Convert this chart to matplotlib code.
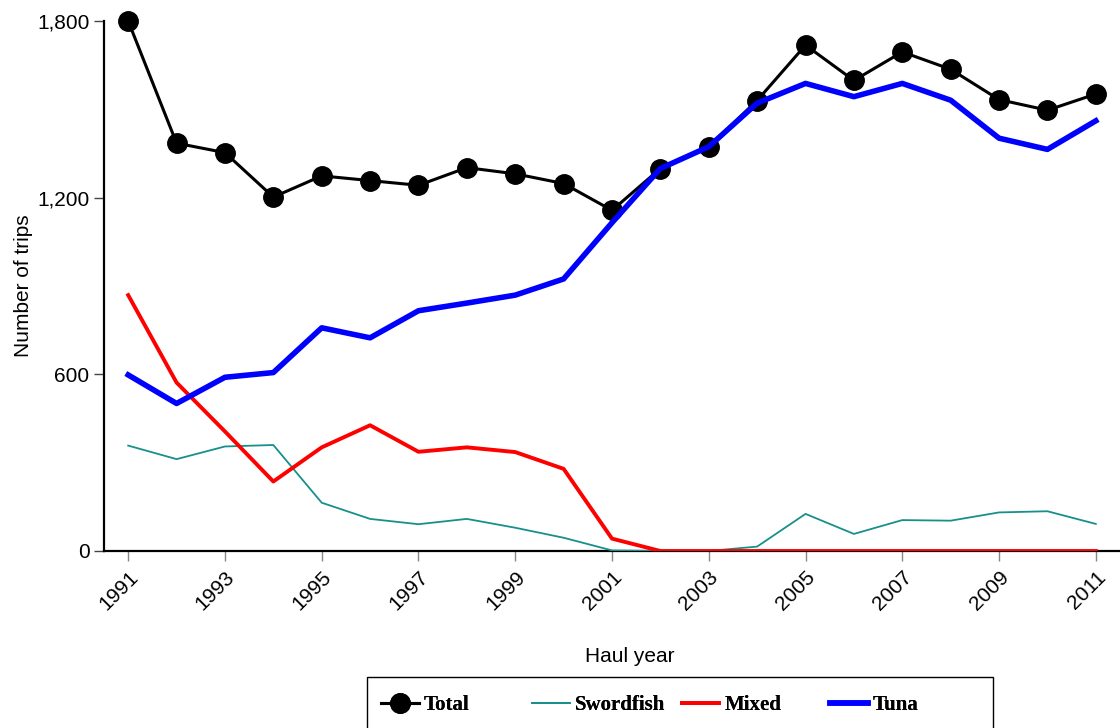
import matplotlib
matplotlib.use("Agg")
import matplotlib.pyplot as plt
from matplotlib.patches import Rectangle
from matplotlib.ticker import FuncFormatter

years = list(range(1991, 2012))
total = [1800, 1385, 1353, 1202, 1274, 1258, 1242, 1302, 1281, 1248, 1157,
         1299, 1373, 1530, 1718, 1598, 1695, 1636, 1533, 1497, 1552]
swordfish = [358, 312, 355, 360, 164, 109, 91, 109, 79, 45, 2,
             0, 0, 15, 126, 58, 105, 103, 131, 135, 92]
mixed = [869, 572, 406, 236, 352, 427, 337, 352, 336, 279, 42,
         0, 0, 0, 0, 0, 0, 0, 0, 0, 0]
tuna = [598, 501, 590, 606, 758, 724, 816, 842, 869, 924, 1115,
        1299, 1373, 1521, 1588, 1543, 1588, 1531, 1402, 1364, 1461]
tick_years = list(range(1991, 2012, 2))
y_ticks = [0, 600, 1200, 1800]

plt.rcParams["font.family"] = ["Liberation Sans", "DejaVu Sans"]

fig = plt.figure(figsize=(11.2, 7.28), dpi=100)
ax = fig.add_axes([104 / 1120, 1 - 551 / 728, 1 - 104 / 1120, (551 - 21) / 728])

lines = []
lines += ax.plot(years, total, color="black", lw=2.2, marker="o", markersize=14,
                 label="Total", clip_on=False, zorder=3)
lines += ax.plot(years, swordfish, color="#17908c", lw=1.3, label="Swordfish", zorder=4)
lines += ax.plot(years, mixed, color="#ff0000", lw=2.8, label="Mixed", zorder=5)
lines += ax.plot(years, tuna, color="#0000ff", lw=4, label="Tuna", zorder=6)

ax.set_xlim(1990.5, 2011.5)
ax.set_ylim(0, 1800)
ax.set_xticks(tick_years)
ax.set_xticklabels([str(y) for y in tick_years], rotation=45, ha="right",
                   rotation_mode="anchor", fontsize=15)
ax.set_yticks(y_ticks)
ax.yaxis.set_major_formatter(FuncFormatter(lambda v, _: f"{int(v):,}"))
ax.tick_params(axis="y", labelsize=15, length=7, width=1, color="#444444")
ax.tick_params(axis="x", length=7, width=1, color="#888888", pad=5)

for side in ("top", "right"):
    ax.spines[side].set_visible(False)
for side in ("left", "bottom"):
    ax.spines[side].set_linewidth(1.6)

ax.set_ylabel("Number of trips", fontsize=15, labelpad=3)
fig.text(630 / 1120, 1 - 657 / 728, "Haul year", fontsize=15, ha="center", va="center")

# legend: fixed-width columns inside a box that runs off the bottom edge
fig.add_artist(Rectangle((367 / 1120, -0.05), (993 - 367) / 1120, 0.05 + 1 - 677 / 728,
                         transform=fig.transFigure, fill=False, edgecolor="black",
                         linewidth=1.0, clip_on=False))
col_x = [381, 532, 682, 830]
for line, x in zip(lines, col_x):
    leg = fig.legend(handles=[line], loc="center left",
                     bbox_to_anchor=(x / 1120, 1 - 705 / 728), frameon=False,
                     borderpad=0, borderaxespad=0, handlelength=1.8, handletextpad=0.25,
                     prop={"family": "Liberation Serif", "weight": "bold", "size": 15})
    fig.add_artist(leg)

fig.savefig("out.png", dpi=100)
